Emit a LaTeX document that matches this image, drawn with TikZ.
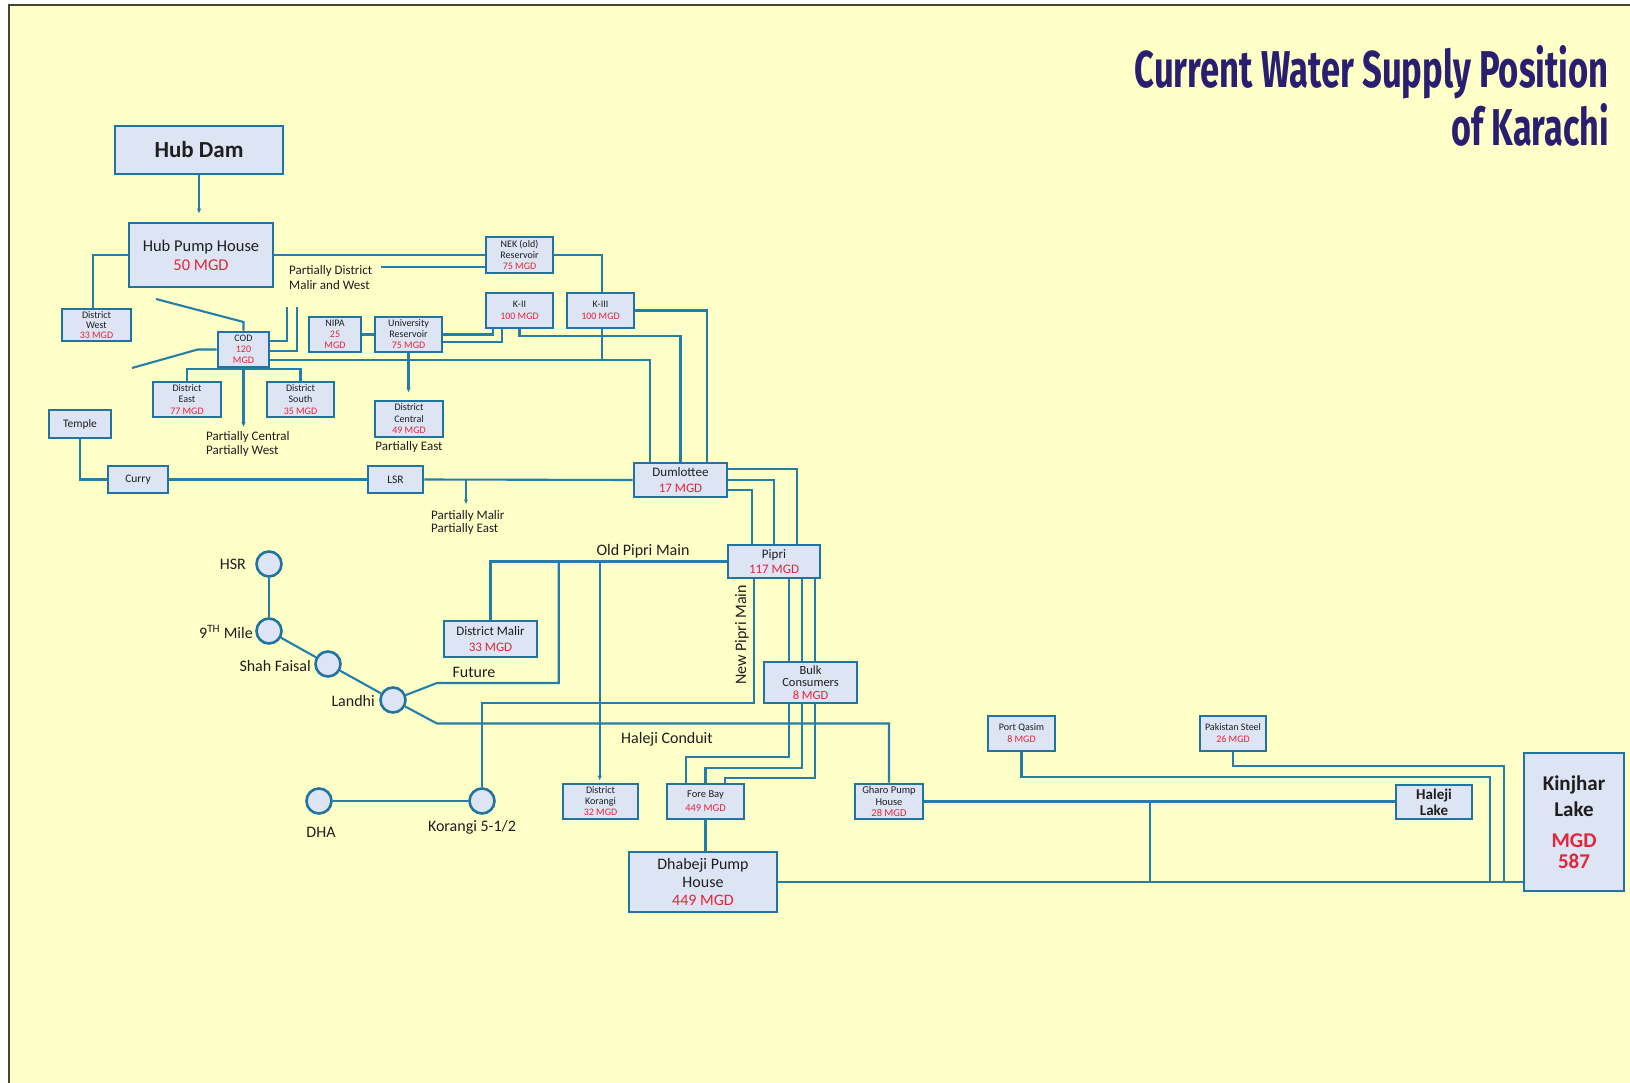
\documentclass[tikz,border=0pt]{standalone}
\usepackage{fontspec}
\usepackage{graphicx}
\setmainfont{Carlito}
\newfontfamily\titlefont{Fira Sans}
\usetikzlibrary{arrows.meta,calc}
\definecolor{bgyellow}{RGB}{255,255,200}
\definecolor{boxfill}{RGB}{221,228,244}
\definecolor{boxline}{RGB}{34,116,160}
\definecolor{lineblue}{RGB}{36,126,170}
\definecolor{mgdred}{RGB}{226,38,56}
\definecolor{titleblue}{RGB}{42,30,112}
\definecolor{framedark}{RGB}{70,70,55}
\definecolor{txt}{RGB}{30,30,30}
\newcommand{\rd}[1]{\textcolor{mgdred}{#1}}
\newcommand{\fsz}[2]{\fontsize{#1}{#2}\selectfont}
\pgfdeclarelayer{back}
\pgfdeclarelayer{pipes}
\pgfsetlayers{back,pipes,main}
\begin{document}
\begin{tikzpicture}[x=1pt,y=-1pt,
  box/.style={draw=boxline, fill=boxfill, line width=2.6pt, inner sep=0pt, align=center, text=txt},
  wh/.style 2 args={minimum width=#1pt, minimum height=#2pt},
  pipe/.style={draw=lineblue, line width=2.1pt},
  arr/.style={pipe, -{Latex[length=5pt,width=4.5pt]}},
  circ/.style={circle, draw=boxline, fill=boxfill, line width=2.6pt, minimum size=25pt, inner sep=0pt},
  lbl/.style={inner sep=0pt, text=txt, font=\fsz{16}{19}},
  ]
\useasboundingbox (0,0) rectangle (1630,1083);
\begin{pgfonlayer}{back}
\fill[white] (0,0) rectangle (1630,1083);
\fill[bgyellow] (9,5) rectangle (1630,1083);
\draw[framedark, line width=2pt] (9,1083) -- (9,5) -- (1630,5);
\end{pgfonlayer}

% title
\node[anchor=base east, inner sep=0pt, text=titleblue] (title1) at (1609,88) {\resizebox{474pt}{42pt}{\titlefont\bfseries Current Water Supply Position}};
\node[anchor=base east, inner sep=0pt, text=titleblue] (title2) at (1609,146) {\resizebox{157pt}{42pt}{\titlefont\bfseries of Karachi}};

% boxes
\node[box, wh={168}{48}, font=\bfseries\fsz{23}{26}] (hubdam) at (199,150) {Hub Dam};
\node[box, wh={144}{64}, font=\fsz{16.5}{19}] (hph) at (201,255) {Hub Pump House\\\rd{50 MGD}};
\node[box, wh={69}{32}, font=\fsz{10}{10}] (dwest) at (96.5,325) {District\\West\\\rd{33 MGD}};
\node[box, wh={67}{36}, font=\fsz{10}{11}] (nek) at (519.5,255) {NEK (old)\\Reservoir\\\rd{75 MGD}};
\node[box, wh={67}{35}, font=\fsz{10}{12}] (k2) at (519.5,310.5) {K-II\\\rd{100 MGD}};
\node[box, wh={67}{35}, font=\fsz{10}{12}] (k3) at (600.5,310.5) {K-III\\\rd{100 MGD}};
\node[box, wh={52}{35}, font=\fsz{10}{11}] (nipa) at (335,334.5) {NIPA\\\rd{25}\\\rd{MGD}};
\node[box, wh={67}{35}, font=\fsz{10}{11}] (univ) at (408.5,334.5) {University\\Reservoir\\\rd{75 MGD}};
\node[box, wh={68}{36}, font=\fsz{10}{11.5}] (dcentral) at (409,419) {District\\Central\\\rd{49 MGD}};
\node[box, wh={51}{35}, font=\fsz{10}{11}] (cod) at (243.5,349.5) {COD\\\rd{120}\\\rd{MGD}};
\node[box, wh={68}{35}, font=\fsz{10}{11.3}] (deast) at (187,399.5) {District\\East\\\rd{77 MGD}};
\node[box, wh={67}{35}, font=\fsz{10}{11.3}] (dsouth) at (300.5,399.5) {District\\South\\\rd{35 MGD}};
\node[box, wh={62}{28}, font=\fsz{11.5}{13}] (temple) at (80,424) {Temple};
\node[box, wh={60}{27}, font=\fsz{11.5}{13}] (curry) at (138,479.5) {Curry};
\node[box, wh={55}{27}, font=\fsz{11.5}{13}] (lsr) at (395.5,479.5) {LSR};
\node[box, wh={93}{34}, font=\fsz{13}{15.5}] (dum) at (680.5,480) {Dumlottee\\\rd{17 MGD}};
\node[box, wh={92}{33}, font=\fsz{13}{15}] (pipri) at (774,561.5) {Pipri\\\rd{117 MGD}};
\node[box, wh={93}{41}, font=\fsz{12.5}{12.5}] (bulk) at (810.5,682.5) {Bulk\\Consumers\\\rd{8 MGD}};
\node[box, wh={93}{36}, font=\fsz{13}{15.5}] (dmalir) at (490.5,639) {District Malir\\\rd{33 MGD}};
\node[box, wh={75}{35}, font=\fsz{10}{11}] (dkorangi) at (600.5,801.5) {District\\Korangi\\\rd{32 MGD}};
\node[box, wh={77}{35}, font=\fsz{10.5}{14}] (forebay) at (705.5,801.5) {Fore Bay\\\rd{449 MGD}};
\node[box, wh={68}{35}, font=\fsz{10.5}{11.5}] (gharo) at (889,801.5) {Gharo Pump\\House\\\rd{28 MGD}};
\node[box, wh={148}{60}, font=\fsz{16}{18}] (dhabeji) at (703,882) {Dhabeji Pump\\House\\\rd{449 MGD}};
\node[box, wh={67}{35}, font=\fsz{10}{12}] (portqasim) at (1021.5,733.5) {Port Qasim\\\rd{8 MGD}};
\node[box, wh={66}{35}, font=\fsz{10}{12}] (paksteel) at (1233,733.5) {Pakistan Steel\\\rd{26 MGD}};
\node[box, wh={76}{34}, font=\bfseries\fsz{15}{16}] (halejilake) at (1434,802) {Haleji\\Lake};
\node[box, wh={100}{138}, font=\bfseries\fsz{21}{26}] (kinjhar) at (1574,822) {Kinjhar\\Lake\\[5pt]\rd{MGD}\\[-5pt]\rd{587}};

% circles
\node[circ] (hsr) at (269,564) {};
\node[circ] (ninth) at (269,631) {};
\node[circ] (shah) at (328,664) {};
\node[circ] (landhi) at (393,700) {};
\node[circ] (dha) at (319,801) {};
\node[circ] (k55) at (482,801) {};

% labels
\node[lbl, anchor=east] (lhsr) at (246,564) {HSR};
\node[lbl, anchor=east] (lninth) at (253,632) {9\textsuperscript{TH} Mile};
\node[lbl, anchor=east] (lshah) at (311,666) {Shah Faisal};
\node[lbl, anchor=east] (llandhi) at (375,701) {Landhi};
\node[lbl] (ldha) at (321,832) {DHA};
\node[lbl] (lk55) at (472,827) {Korangi 5-1/2};
\node[lbl] (lopm) at (643,551) {Old Pipri Main};
\node[lbl] (lfut) at (474,672) {Future};
\node[lbl] (lhc) at (667,739) {Haleji Conduit};
\node[lbl, rotate=90] (lnpm) at (742,635) {New Pipri Main};
\node[lbl, font=\fsz{13}{15}, anchor=west, align=left] (lpdmw) at (289,278) {Partially District\\Malir and West};
\node[lbl, font=\fsz{13}{14}, anchor=west, align=left] (lpcw) at (206,444) {Partially Central\\Partially West};
\node[lbl, font=\fsz{13}{14}] (lpe) at (409,447) {Partially East};
\node[lbl, font=\fsz{13}{13.5}, anchor=west, align=left] (lpme) at (431,522.5) {Partially Malir\\Partially East};

% connectors
\begin{pgfonlayer}{pipes}
\draw[arr, shorten >=8pt] (hubdam.south) -- (hubdam.south |- hph.north);
\draw[pipe] (hph.west) -| ([xshift=-3.5pt]dwest.north);
\draw[pipe] (hph.east) -- (nek.west);
\coordinate (pdmwend) at (381,267);
\draw[pipe] (pdmwend) -- (pdmwend -| nek.west);
\draw[pipe] (nek.east) -| ([xshift=1.5pt]k3.north);
\draw[pipe] (k3.east) -| ([xshift=26.5pt]dum.north);
\draw[pipe] ([xshift=1.5pt]k3.south) -- ++(0,32);
\draw[pipe] ([yshift=-10.5pt]cod.east) -| ([xshift=-30.5pt]dum.north);
\draw[pipe] (k2.south) -- ++(0,7) -| (dum.north);
\draw[pipe] (univ.east) -| ([xshift=-26.5pt]k2.south);
\draw[pipe] ([yshift=-7.5pt]univ.east) -| ([xshift=-17.5pt]k2.south);
\draw[pipe] (nipa.east) -- (univ.west);
\draw[arr, shorten >=7pt] (univ.south) -- (univ.south |- dcentral.north);
\coordinate (codA) at (156,299);
\draw[pipe] (codA) -- (cod.north |- 0,322) -- (cod.north);
\coordinate (codB) at (132,368);
\draw[pipe] (codB) -- ([xshift=-19pt]cod.west) -- (cod.west);
\coordinate (codC) at (287,307);
\coordinate (codD) at (297,307);
\draw[pipe] ([yshift=8.5pt]cod.east) -| (codC);
\draw[pipe] ([yshift=-1.5pt]cod.east) -| (codD);
\draw[arr, shorten >=4pt] (cod.south) -- (cod.south |- lpcw.north);
\draw[pipe] (deast.north) |- (dsouth.north |- 0,369) -- (dsouth.north);
\draw[pipe] (temple.south) |- (curry.west);
\draw[pipe] (curry.east) -- (lsr.west);
\draw[pipe] (lsr.east) -- (dum.west);
\coordinate (lsrT) at (466,479.5);
\draw[arr] (lsrT) -- ++(0,25);
\draw[pipe] ([yshift=11pt]dum.east) -| ([xshift=23pt]pipri.north);
\draw[pipe] (dum.east) -| (pipri.north);
\draw[pipe] ([yshift=-10pt]dum.east) -| ([xshift=-22pt]pipri.north);
\draw[pipe] (pipri.west) -| (dmalir.north);
\path (pipri.west) ++(-168,0) coordinate (opmB);
\path (pipri.west) ++(-127,0) coordinate (opmK);
\coordinate (fut1) at (437,683);
\draw[pipe] (landhi) -- (fut1) -| (opmB);
\draw[arr, shorten >=2pt] (opmK) -- (opmK |- dkorangi.north);
\draw[pipe] ([xshift=-20pt]pipri.south) |- (k55 |- 0,703) -- (k55);
\draw[pipe] ([xshift=15pt]pipri.south) -- ([xshift=-21.5pt]bulk.north);
\draw[pipe] ([xshift=28pt]pipri.south) -- ([xshift=-8.5pt]bulk.north);
\draw[pipe] ([xshift=41pt]pipri.south) -- ([xshift=4.5pt]bulk.north);
\draw[pipe] ([xshift=-21.5pt]bulk.south) -- ++(0,53) -| ([xshift=-19.5pt]forebay.north);
\draw[pipe] ([xshift=-8.5pt]bulk.south) -- ++(0,64) -| (forebay.north);
\draw[pipe] ([xshift=4.5pt]bulk.south) -- ++(0,74) -| ([xshift=19.5pt]forebay.north);
\coordinate (hc1) at (437,723.5);
\draw[pipe] (landhi) -- (hc1) -| (gharo.north);
\draw[pipe] (forebay.south) -- (forebay.south |- dhabeji.north);
\draw[pipe] (dhabeji.east) -- (dhabeji.east -| kinjhar.west);
\draw[pipe] (gharo.east) -- (gharo.east -| halejilake.west);
\draw[pipe] (gharo.east -| 1150,0) -- (dhabeji.east -| 1150,0);
\draw[pipe] (portqasim.south) |- (1490,777) -- (dhabeji.east -| 1490,0);
\draw[pipe] (paksteel.south) |- (1504,766) -- (dhabeji.east -| 1504,0);
\draw[pipe] (hsr) -- (ninth);
\draw[pipe] (ninth) -- (shah);
\draw[pipe] (shah) -- (landhi);
\draw[pipe] (dha) -- (k55);
\end{pgfonlayer}
\end{tikzpicture}
\end{document}
